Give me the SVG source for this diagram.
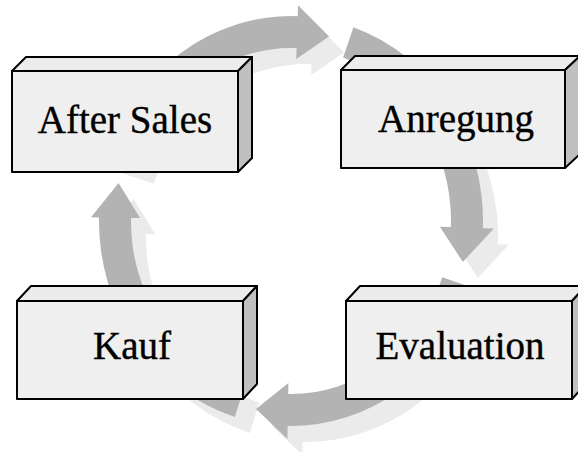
<svg xmlns="http://www.w3.org/2000/svg" width="578" height="452" viewBox="0 0 578 452">
<style>
.dark{fill:#b3b3b3}
.light{fill:#ebebeb}
.front{fill:#efefef;stroke:#000;stroke-width:2;stroke-linejoin:round}
.top{fill:#ececec;stroke:#000;stroke-width:2;stroke-linejoin:round}
.side{fill:#c0c0c0;stroke:#000;stroke-width:2;stroke-linejoin:round}
.lbl{font-family:"Liberation Serif","Times New Roman",serif;font-size:39px;fill:#000;stroke:#000;stroke-width:0.4;text-anchor:middle}
</style>
<defs>
<path id="a-top" d="M108.4,157.65 A192,205 0 0 1 297.7,16.13 L298.08,5.13 L329.09,36.48 L296.2,59.1 L296.58,48.11 A160,173 0 0 0 138.83,167.54 Z"/>
<path id="a-right" d="M353.51,27.17 A192,205 0 0 1 482.88,228.15 L493.88,228.54 L462.83,261.91 L439.91,226.65 L450.9,227.04 A160,173 0 0 0 343.09,57.43 Z"/>
<path id="a-bottom" d="M472.54,287.74 A192,205 0 0 1 287.65,425.97 L287.46,439 L256,409 L288.4,383 L288.21,393.97 A160,173 0 0 0 442.28,277.32 Z"/>
<path id="a-left" d="M234.87,417.04 A192,205 0 0 1 99.03,217.42 L91,217.3 L118.59,183 L140,218.1 L131.02,217.98 A160,173 0 0 0 244.22,386.44 Z"/>
</defs>
<g id="connectors">
<g transform="translate(15,16)" class="light">
<use href="#a-top"/><use href="#a-right"/><use href="#a-bottom"/><use href="#a-left"/>
</g>
<g class="dark">
<use href="#a-top"/><use href="#a-right"/><use href="#a-bottom"/><use href="#a-left"/>
</g>
</g>
<g id="after-sales">
<polygon class="top" points="12,71 26,57 252,57 238,71"/>
<polygon class="side" points="238,71 252,57 252,158 238,172"/>
<rect class="front" x="12" y="71" width="226" height="101"/>
<text class="lbl" x="125" y="133">After Sales</text>
</g>
<g id="anregung">
<polygon class="top" points="341,70 355,56 580,56 565,70"/>
<polygon class="side" points="565,70 580,56 580,154 565,168"/>
<rect class="front" x="341" y="70" width="224" height="98"/>
<text class="lbl" x="456" y="132">Anregung</text>
</g>
<g id="kauf">
<polygon class="top" points="17,301 31,286 257,286 243,301"/>
<polygon class="side" points="243,301 257,286 257,384 243,399"/>
<rect class="front" x="17" y="301" width="226" height="98"/>
<text class="lbl" x="132" y="359">Kauf</text>
</g>
<g id="evaluation">
<polygon class="top" points="346,301 360,286 586,286 572,301"/>
<polygon class="side" points="572,301 586,286 586,384 572,399"/>
<rect class="front" x="346" y="301" width="226" height="98"/>
<text class="lbl" x="460" y="359">Evaluation</text>
</g>
</svg>
